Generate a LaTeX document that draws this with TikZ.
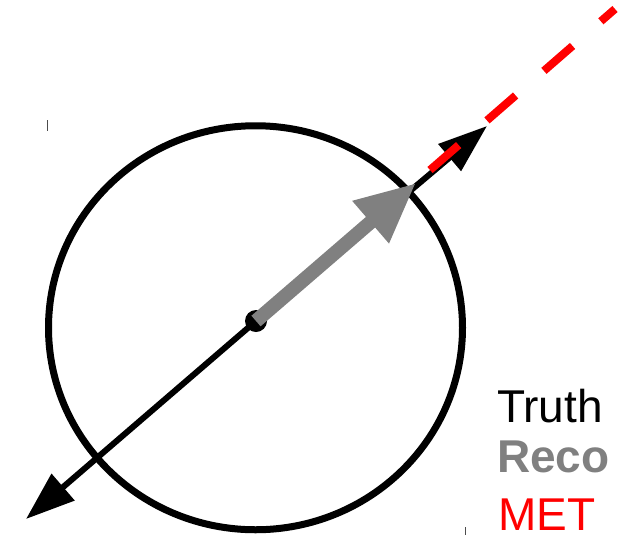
\documentclass[tikz,border=0pt]{standalone}
\usepackage{fontspec}
\setmainfont{Liberation Sans}
\usetikzlibrary{arrows.meta}

\definecolor{recogray}{RGB}{128,128,128}
\definecolor{metred}{RGB}{255,0,0}

\begin{document}
\begin{tikzpicture}[x=1pt, y=-1pt,
        truth/.style={line width=6pt, -{Triangle[length=49pt, width=34pt]}},
        reco/.style={line width=14pt, recogray, -{Triangle[length=60pt, width=52pt]}},
        met/.style={line width=8pt, metred, dash pattern=on 38pt off 37.5pt},
        legend/.style={anchor=base west, inner sep=0pt, font=\fontsize{46}{54}\selectfont}]
        \useasboundingbox (0,0) rectangle (626,539);

        % points along the direction
        \coordinate (vertex) at (256,321);
        \coordinate (truthtip) at (487,126);
        \coordinate (truthtail) at (26,519);
        \coordinate (recotip) at (416,183);
        \coordinate (metstart) at (430,170);
        \coordinate (metend) at (615,9);

        % resolution circle and its corner marks
        \draw[line width=7pt] (255.5,327.75) ellipse [x radius=207, y radius=202];
        \draw[line width=1pt, black!70] (47,120) -- (47,131);
        \draw[line width=1pt, black!70] (465,527) -- (465,535);

        \draw[truth] (vertex) -- (truthtip);
        \draw[truth] (vertex) -- (truthtail);
        \fill (vertex) circle (11);
        \draw[reco] (vertex) -- (recotip);
        \draw[met] (metstart) -- (metend);

        % legend
        \node (truthlabel) [legend] at (497,422) {Truth};
        \node (recolabel) [legend, recogray, font=\fontsize{46}{54}\selectfont\bfseries] at (497,472) {Reco};
        \node (metlabel) [legend, metred] at (498,530) {MET};
    \end{tikzpicture}
\end{document}
